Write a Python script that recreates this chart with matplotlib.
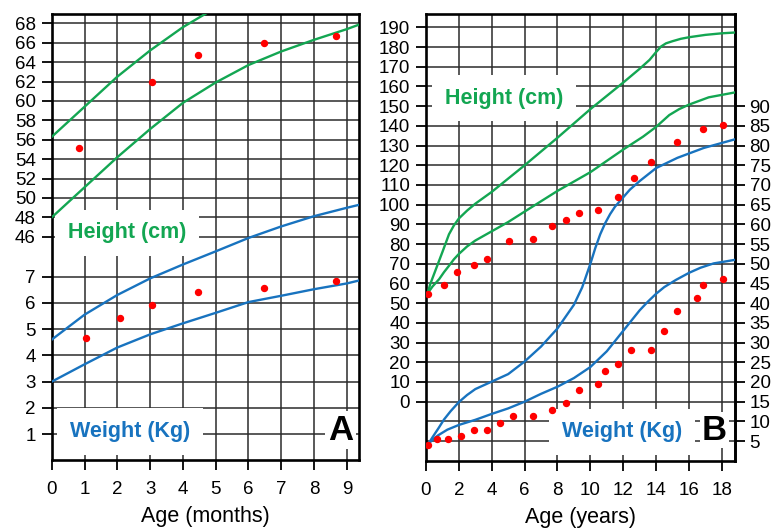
import numpy as np
import matplotlib
matplotlib.use("Agg")
import matplotlib.pyplot as plt

plt.rcParams['font.family'] = ['Liberation Sans', 'DejaVu Sans']

# ---- Panel A: infant chart (age in months) ----
a_ht_upper_age = [0, 1, 2, 3, 4, 5]
a_ht_upper = [56.3, 59.4, 62.5, 65.2, 67.6, 69.6]
a_ht_lower_age = [0, 1, 2, 3, 4, 5, 6, 7, 8, 9, 9.4]
a_ht_lower = [48.0, 51.1, 54.2, 57.1, 59.8, 61.9, 63.7, 65.1, 66.3, 67.4, 67.9]
a_wt_upper_age = [0, 1, 2, 3, 4, 5, 6, 7, 8, 9, 9.4]
a_wt_upper = [4.6, 5.55, 6.3, 6.93, 7.46, 7.96, 8.47, 8.91, 9.3, 9.62, 9.74]
a_wt_lower_age = [0, 1, 2, 3, 4, 5, 6, 7, 8, 9, 9.4]
a_wt_lower = [3.0, 3.66, 4.3, 4.8, 5.22, 5.62, 6.03, 6.27, 6.52, 6.74, 6.86]
a_ht_pts_age = [0.84, 3.06, 4.47, 6.47, 8.67]
a_ht_pts = [55.2, 62.0, 64.7, 66.0, 66.7]
a_wt_pts_age = [1.06, 2.07, 3.06, 4.47, 6.47, 8.67]
a_wt_pts = [4.68, 5.43, 5.92, 6.42, 6.58, 6.84]
a_ht_ticks = list(range(46, 70, 2))
a_wt_ticks = list(range(1, 8))
a_x_ticks = list(range(0, 10))

# ---- Panel B: child chart (age in years) ----
b_ht_upper_age = [0.1, 0.25, 0.5, 0.75, 1.0, 1.2, 1.4, 1.7, 2, 2.5, 3, 4, 6, 8, 10, 12, 13, 13.6,
                  14.0, 14.3, 14.6, 15, 15.5, 16, 17, 18, 18.8]
b_ht_upper = [55, 59.5, 65, 70.5, 76, 80.5, 85, 89.5, 93, 97, 100.5, 106.5, 120, 134, 148.5, 162, 169, 173.5,
              177.5, 180.3, 181.9, 183, 184.2, 185, 186.2, 187, 187.4]
b_ht_lower_age = [0.1, 0.4, 0.8, 1.1, 1.4, 1.7, 2, 2.5, 3, 4, 5, 6, 8, 10, 12, 13.2, 14, 14.8,
                  15.4, 16, 17.2, 18.8]
b_ht_lower = [55, 58.5, 62.2, 65.8, 69, 72.3, 75, 78.8, 81.8, 86.5, 91.2, 96.5, 107, 116.5, 128, 134.5, 139.5, 145.5,
              148.5, 150.8, 154.5, 157]
b_wt_upper_age = [0.1, 0.4, 0.75, 1.1, 1.5, 2, 2.5, 3, 4, 5, 6, 7, 8, 9, 9.5, 10, 10.3, 10.6, 10.9,
                  11.2, 11.5, 11.9, 12.4, 13, 14, 15.3, 16.9, 18.8]
b_wt_upper = [4.0, 6.0, 8.2, 10.5, 12.6, 14.9, 16.7, 18.2, 20.1, 22.0, 25.2, 29.0, 33.6, 39.6, 44, 50.0, 54, 57.5, 60.3,
              62.6, 64.5, 66.4, 68.8, 71.0, 74.3, 76.9, 79.4, 81.6]
b_wt_lower_age = [0.1, 0.4, 0.75, 1.3, 2, 3, 4, 5, 6, 7, 8, 9, 10, 11, 12, 13, 13.5, 14, 14.5,
                  15.2, 16, 16.7, 17.5, 18.8]
b_wt_lower = [4.0, 5.4, 6.5, 7.9, 9.1, 10.4, 11.9, 13.3, 15.0, 17.0, 18.8, 21.0, 23.8, 27.8, 33.0, 38.2, 40.4, 42.4, 44.1,
              45.9, 47.7, 49.0, 50.1, 51.0]
b_ht_pts_age = [0.1, 1.08, 1.87, 2.92, 3.71, 5.07, 6.48, 7.69, 8.5, 9.31, 10.49, 11.7, 12.66, 13.68, 15.26, 16.88, 18.08]
b_ht_pts = [54.5, 59.2, 65.8, 69.2, 72.6, 81.4, 82.6, 89.2, 92.2, 95.6, 97.3, 103.9, 113.8, 121.9, 131.8, 138.4, 140.4]
b_wt_pts_age = [0.1, 0.69, 1.32, 2.11, 2.92, 3.69, 4.5, 5.31, 6.49, 7.69, 8.5, 9.29, 10.49, 10.9, 11.67,
                12.48, 13.67, 14.46, 15.27, 16.48, 16.88, 18.08]
b_wt_pts = [4.0, 5.5, 5.5, 6.3, 7.8, 7.8, 9.6, 11.3, 11.3, 12.9, 14.6, 17.9, 19.6, 22.9, 24.6,
            28.0, 28.0, 33.0, 37.9, 41.3, 44.5, 46.1]
b_ht_ticks = list(range(0, 200, 10))
b_ht_extra_grid = [-20, -10]
b_wt_ticks = list(range(5, 95, 5))
b_x_ticks = list(range(0, 20, 2))

GREEN = '#13a652'
BLUE = '#1873bf'
RED = '#ff0000'
GRID = '#2b2b2b'


# weight (kg) shares the height (cm) axis through a linear scale
def kg_to_cm_a(w):
    return 22.95 + 2.707 * np.asarray(w)


def kg_to_cm_b(w):
    return 2 * np.asarray(w) - 30


def cm_to_kg_b(h):
    return (np.asarray(h) + 30) / 2


fig = plt.figure(figsize=(7.72, 5.28), dpi=100)
axA = fig.add_axes([0.0670, 0.1288, 0.3984, 0.8447])
axB = fig.add_axes([0.5518, 0.1269, 0.4003, 0.8466])


def style_axes(ax):
    for sp in ax.spines.values():
        sp.set_linewidth(1.9)
        sp.set_color('black')
    ax.tick_params(axis='both', direction='out', length=7.5, width=1.3,
                   labelsize=13.5, color='black')
    ax.tick_params(axis='x', pad=7.5)
    ax.tick_params(axis='y', pad=4)
    ax.grid(True, which='both', color=GRID, linewidth=1.1)
    ax.set_axisbelow(True)


def label_box(ax, x, y, s, color, size=15.5, pad=0.6, ha='left'):
    ax.text(x, y, s, transform=ax.transAxes, color=color, fontsize=size,
            fontweight='bold', ha=ha, va='center', zorder=3,
            bbox=dict(boxstyle='square', facecolor='white', edgecolor='none', pad=pad))


# ---- Panel A ----
style_axes(axA)
axA.set_xlim(0, 9.38)
axA.set_ylim(23.0, 68.96)
axA.set_xticks(a_x_ticks)
yt = a_ht_ticks + list(kg_to_cm_a(a_wt_ticks))
yl = [str(v) for v in a_ht_ticks] + [str(v) for v in a_wt_ticks]
axA.set_yticks(yt, yl)
axA.set_xlabel('Age (months)', fontsize=15.5, labelpad=6)

axA.plot(a_ht_upper_age, a_ht_upper, color=GREEN, lw=1.7, zorder=4)
axA.plot(a_ht_lower_age, a_ht_lower, color=GREEN, lw=1.7, zorder=4)
axA.plot(a_wt_upper_age, kg_to_cm_a(a_wt_upper), color=BLUE, lw=1.7, zorder=4)
axA.plot(a_wt_lower_age, kg_to_cm_a(a_wt_lower), color=BLUE, lw=1.7, zorder=4)
axA.plot(a_ht_pts_age, a_ht_pts, 'o', color=RED, ms=4.3, zorder=5)
axA.plot(a_wt_pts_age, kg_to_cm_a(a_wt_pts), 'o', color=RED, ms=4.3, zorder=5)

label_box(axA, 0.053, 0.509, 'Height (cm)', GREEN)
label_box(axA, 0.0595, 0.063, 'Weight (Kg)', BLUE)
label_box(axA, 0.98, 0.067, 'A', 'black', size=25, pad=0.08, ha='right')

# ---- Panel B ----
style_axes(axB)
axB.set_xlim(0, 18.8)
axB.set_ylim(-30.1, 196.8)
axB.set_xticks(b_x_ticks)
axB.set_yticks(b_ht_ticks)
axB.set_yticks(b_ht_extra_grid, minor=True)
axB.tick_params(axis='y', which='minor', length=0)
axB.set_xlabel('Age (years)', fontsize=15.5, labelpad=6)

sec = axB.secondary_yaxis('right', functions=(cm_to_kg_b, kg_to_cm_b))
sec.set_yticks(b_wt_ticks)
sec.spines['right'].set_linewidth(1.9)
sec.tick_params(axis='y', direction='out', length=7.5, width=1.3, labelsize=13.5, pad=3)

axB.plot(b_ht_upper_age, b_ht_upper, color=GREEN, lw=1.7, zorder=4)
axB.plot(b_ht_lower_age, b_ht_lower, color=GREEN, lw=1.7, zorder=4)
axB.plot(b_wt_upper_age, kg_to_cm_b(b_wt_upper), color=BLUE, lw=1.7, zorder=4)
axB.plot(b_wt_lower_age, kg_to_cm_b(b_wt_lower), color=BLUE, lw=1.7, zorder=4)
axB.plot(b_ht_pts_age, b_ht_pts, 'o', color=RED, ms=4.3, zorder=5)
axB.plot(b_wt_pts_age, kg_to_cm_b(b_wt_pts), 'o', color=RED, ms=4.3, zorder=5)

label_box(axB, 0.0615, 0.812, 'Height (cm)', GREEN)
label_box(axB, 0.44, 0.065, 'Weight (Kg)', BLUE)
label_box(axB, 0.974, 0.069, 'B', 'black', size=25, pad=0.05, ha='right')

fig.savefig('out.png', dpi=100)
